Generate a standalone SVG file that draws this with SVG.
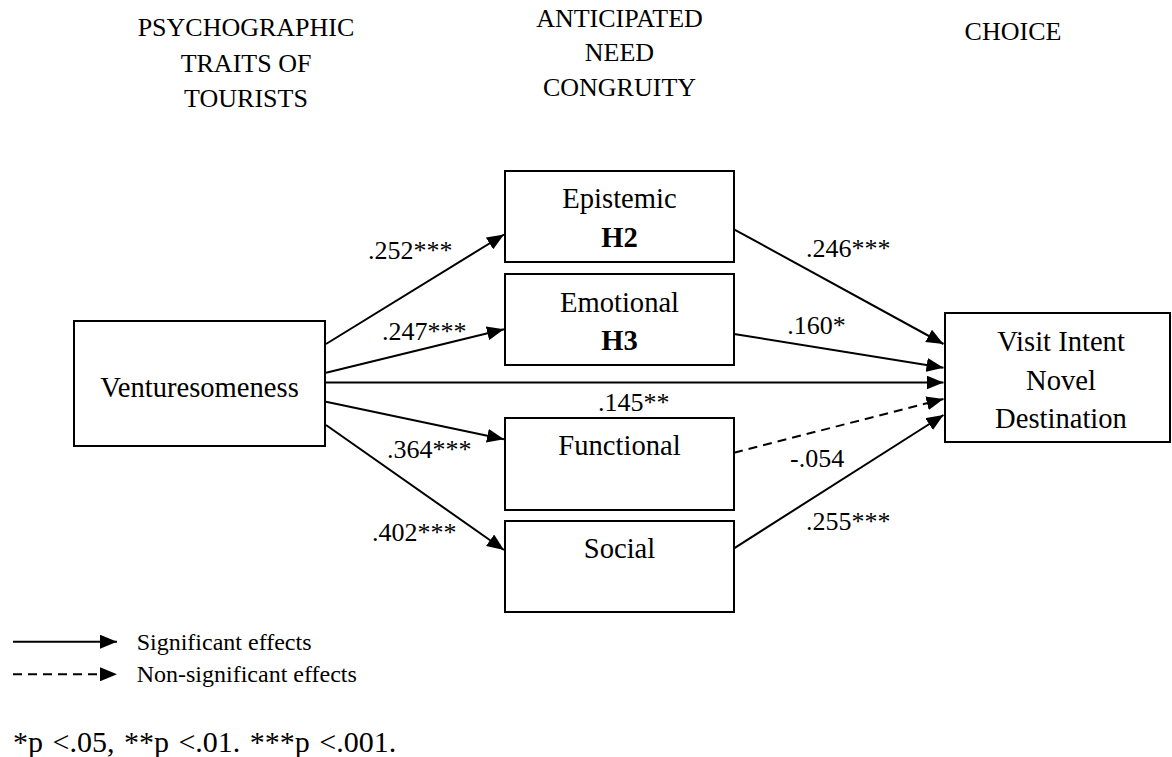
<svg xmlns="http://www.w3.org/2000/svg" width="1172" height="757" viewBox="0 0 1172 757">
<style>
text{font-family:"Liberation Serif","Times New Roman",serif;fill:#000}
.hd{font-size:26px;text-anchor:middle}
.bx{font-size:28.6px;text-anchor:middle}
.b{font-weight:bold}
.lb{font-size:26px}
.lg{font-size:24px}
.fn{font-size:30px;word-spacing:2px}
rect{fill:#fff;stroke:#000;stroke-width:2}
.c{stroke:#000;stroke-width:2;fill:none}
.d{stroke-dasharray:9 6}
</style>
<defs>
<marker id="ah" viewBox="0 0 17 14" refX="17" refY="7" markerWidth="17" markerHeight="14" markerUnits="userSpaceOnUse" orient="auto">
<path d="M0,0 L17,7 L0,14 Z" fill="#000"/>
</marker>
</defs>
<g id="headers">
<text class="hd" x="246" y="36">PSYCHOGRAPHIC</text>
<text class="hd" x="246" y="71.5">TRAITS OF</text>
<text class="hd" x="246" y="106.7">TOURISTS</text>
<text class="hd" x="619.5" y="26.7">ANTICIPATED</text>
<text class="hd" x="619.5" y="61.3">NEED</text>
<text class="hd" x="619.5" y="96">CONGRUITY</text>
<text class="hd" x="1013" y="40">CHOICE</text>
</g>
<g id="connectors">
<line class="c" x1="326" y1="344" x2="504" y2="234.5" marker-end="url(#ah)"/>
<line class="c" x1="326" y1="372.7" x2="504" y2="329.3" marker-end="url(#ah)"/>
<line class="c" x1="326" y1="382.5" x2="943.5" y2="382.5" marker-end="url(#ah)"/>
<line class="c" x1="326" y1="401.7" x2="504" y2="439.3" marker-end="url(#ah)"/>
<line class="c" x1="326" y1="425" x2="504" y2="550" marker-end="url(#ah)"/>
<line class="c" x1="734" y1="229.3" x2="943.5" y2="344" marker-end="url(#ah)"/>
<line class="c" x1="734" y1="334" x2="943.5" y2="367.7" marker-end="url(#ah)"/>
<line class="c d" x1="734" y1="452.7" x2="943.5" y2="399" marker-end="url(#ah)"/>
<line class="c" x1="734" y1="548.3" x2="943.5" y2="415" marker-end="url(#ah)"/>
</g>
<g id="edge-labels">
<text class="lb" x="368" y="259">.252***</text>
<text class="lb" x="382" y="340">.247***</text>
<text class="lb" x="598" y="410.7">.145**</text>
<text class="lb" x="387" y="458">.364***</text>
<text class="lb" x="372" y="540.7">.402***</text>
<text class="lb" x="806" y="257.3">.246***</text>
<text class="lb" x="787.3" y="334.3">.160*</text>
<text class="lb" x="790" y="467.3">-.054</text>
<text class="lb" x="806" y="530">.255***</text>
</g>
<g id="venturesomeness">
<rect x="74" y="321" width="251" height="125"/>
<text class="bx" x="199.5" y="397.3">Venturesomeness</text>
</g>
<g id="epistemic">
<rect x="505" y="171" width="229" height="91"/>
<text class="bx" x="619.5" y="207.7">Epistemic</text>
<text class="bx b" x="619.5" y="247.3">H2</text>
</g>
<g id="emotional">
<rect x="505" y="274" width="229" height="91"/>
<text class="bx" x="619.5" y="311.7">Emotional</text>
<text class="bx b" x="619.5" y="350">H3</text>
</g>
<g id="functional">
<rect x="505" y="418" width="229" height="92"/>
<text class="bx" x="619.5" y="455">Functional</text>
</g>
<g id="social">
<rect x="505" y="521" width="229" height="91"/>
<text class="bx" x="619.5" y="558.3">Social</text>
</g>
<g id="visit-intent">
<rect x="945" y="313" width="225" height="129"/>
<text class="bx" x="1061" y="350.7">Visit Intent</text>
<text class="bx" x="1061" y="390">Novel</text>
<text class="bx" x="1061" y="428.3">Destination</text>
</g>
<g id="legend">
<line class="c" x1="13" y1="641.7" x2="117" y2="641.7" marker-end="url(#ah)"/>
<line class="c d" x1="13" y1="674.3" x2="117" y2="674.3" marker-end="url(#ah)"/>
<text class="lg" x="136.7" y="650">Significant effects</text>
<text class="lg" x="136.7" y="681.7">Non-significant effects</text>
<text class="fn" x="13" y="751.7">*p &lt;.05, **p &lt;.01. ***p &lt;.001.</text>
</g>
</svg>
